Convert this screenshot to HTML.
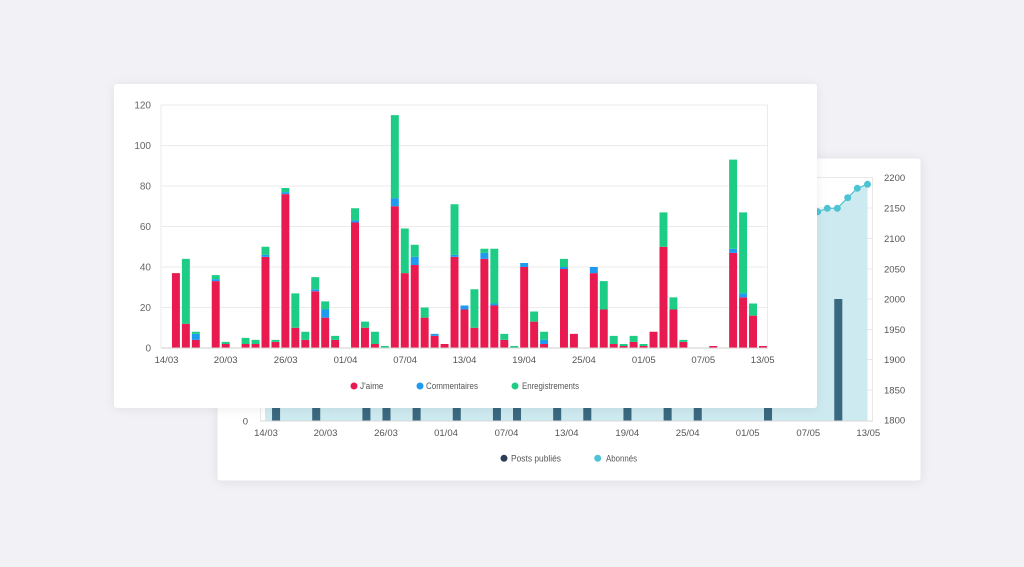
<!DOCTYPE html>
<html><head><meta charset="utf-8"><style>
html,body{margin:0;padding:0;background:#f2f2f6;}
svg{display:block;}
text{font-family:"Liberation Sans",Arial,sans-serif;}
</style></head><body>
<svg width="1024" height="567" viewBox="0 0 1024 567" xmlns="http://www.w3.org/2000/svg">
<defs>
<filter id="sh" x="-10%" y="-10%" width="120%" height="130%">
<feDropShadow dx="0" dy="1" stdDeviation="5" flood-color="#000" flood-opacity="0.07"/>
</filter>
</defs>
<rect width="1024" height="567" fill="#f2f2f6"/>
<rect x="217" y="158" width="704" height="323" rx="3" fill="#fff" stroke="#e8e8ee" filter="url(#sh)"/>
<path d="M261 177.5H873M261 208H873M261 238.5H873M261 269H873M261 299H873M261 329.5H873M261 359.5H873M261 390H873M872.5 177V421M260.5 177V421" stroke="#e8e8e8" fill="none"/>
<polygon points="265,421 265,230 807,214 817.7,211.7 827.3,208.3 837.3,208.3 847.7,197.7 857.3,188.3 867.5,184.3 867.5,421" fill="#cdeaf0"/>
<polyline points="265,230 807,214 817.7,211.7 827.3,208.3 837.3,208.3 847.7,197.7 857.3,188.3 867.5,184.3" fill="none" stroke="#4ec3d3" stroke-width="1.2"/>
<g fill="#4ec3d3">
<circle cx="817.7" cy="211.7" r="3.5"/><circle cx="827.3" cy="208.3" r="3.5"/><circle cx="837.3" cy="208.3" r="3.5"/>
<circle cx="847.7" cy="197.7" r="3.5"/><circle cx="857.3" cy="188.3" r="3.5"/><circle cx="867.5" cy="184.3" r="3.5"/>
</g>
<path transform="translate(261,421) scale(10.04,-1)" fill="#3a687e" d="M1.1 0h.8v30h-.8zM5.1 0h.8v30h-.8zM10.1 0h.8v30h-.8zM12.1 0h.8v30h-.8zM15.1 0h.8v30h-.8zM19.1 0h.8v30h-.8zM23.1 0h.8v30h-.8zM25.1 0h.8v30h-.8zM29.1 0h.8v30h-.8zM32.1 0h.8v30h-.8zM36.1 0h.8v30h-.8zM40.1 0h.8v30h-.8zM43.1 0h.8v30h-.8zM50.1 0h.8v30h-.8zM57.1 0h.8v122h-.8z"/>
<line x1="260" y1="421" x2="873" y2="421" stroke="#d8d8d8"/>
<g font-size="9.5" fill="#555">
<text x="884" y="181">2200</text><text x="884" y="211.5">2150</text><text x="884" y="242">2100</text>
<text x="884" y="272.5">2050</text><text x="884" y="302.5">2000</text><text x="884" y="333">1950</text>
<text x="884" y="363">1900</text><text x="884" y="393.5">1850</text><text x="884" y="423.5">1800</text>
<text x="248" y="424.5" text-anchor="end">0</text>
</g>
<g font-size="9.5" fill="#555" text-anchor="middle">
<text x="266" y="436">14/03</text><text x="325.5" y="436">20/03</text><text x="386" y="436">26/03</text>
<text x="446" y="436">01/04</text><text x="506.5" y="436">07/04</text><text x="566.7" y="436">13/04</text>
<text x="627.3" y="436">19/04</text><text x="687.7" y="436">25/04</text><text x="747.7" y="436">01/05</text>
<text x="808.3" y="436">07/05</text><text x="868.3" y="436">13/05</text>
</g>
<circle cx="504" cy="458.3" r="3.5" fill="#2d3e58"/>
<text x="511" y="461.3" font-size="9" fill="#555" textLength="50" lengthAdjust="spacingAndGlyphs">Posts publiés</text>
<circle cx="597.7" cy="458.3" r="3.5" fill="#4ec3d3"/>
<text x="606" y="461.3" font-size="9" fill="#555" textLength="31" lengthAdjust="spacingAndGlyphs">Abonnés</text>

<rect x="114" y="84" width="703" height="324" rx="3" fill="#fff" filter="url(#sh)"/>
<path d="M161 105H768M161 145.5H768M161 186H768M161 226.5H768M161 267H768M161 307.5H768M161 105V348M767.5 105V348" stroke="#ebebeb" fill="none"/>
<g transform="translate(161,348) scale(9.95,-2.025)">
<path fill="#e91a4f" d="M1.1 0h.8v37h-.8zM2.1 0h.8v12h-.8zM3.1 0h.8v4h-.8zM5.1 0h.8v33h-.8zM6.1 0h.8v2h-.8zM8.1 0h.8v2h-.8zM9.1 0h.8v2h-.8zM10.1 0h.8v45h-.8zM11.1 0h.8v3h-.8zM12.1 0h.8v76h-.8zM13.1 0h.8v10h-.8zM14.1 0h.8v4h-.8zM15.1 0h.8v28h-.8zM16.1 0h.8v15h-.8zM17.1 0h.8v4h-.8zM19.1 0h.8v62h-.8zM20.1 0h.8v10h-.8zM21.1 0h.8v2h-.8zM23.1 0h.8v70h-.8zM24.1 0h.8v37h-.8zM25.1 0h.8v41h-.8zM26.1 0h.8v15h-.8zM27.1 0h.8v6h-.8zM28.1 0h.8v2h-.8zM29.1 0h.8v45h-.8zM30.1 0h.8v19h-.8zM31.1 0h.8v10h-.8zM32.1 0h.8v44h-.8zM33.1 0h.8v21h-.8zM34.1 0h.8v4h-.8zM36.1 0h.8v40h-.8zM37.1 0h.8v13h-.8zM38.1 0h.8v2h-.8zM40.1 0h.8v39h-.8zM41.1 0h.8v7h-.8zM43.1 0h.8v37h-.8zM44.1 0h.8v19h-.8zM45.1 0h.8v2h-.8zM46.1 0h.8v1h-.8zM47.1 0h.8v3h-.8zM48.1 0h.8v1h-.8zM49.1 0h.8v8h-.8zM50.1 0h.8v50h-.8zM51.1 0h.8v19h-.8zM52.1 0h.8v3h-.8zM55.1 0h.8v1h-.8zM57.1 0h.8v47h-.8zM58.1 0h.8v25h-.8zM59.1 0h.8v16h-.8zM60.1 0h.8v1h-.8z"/>
<path fill="#1e9bf0" d="M3.1 4h.8v3h-.8zM5.1 33h.8v1h-.8zM10.1 45h.8v1h-.8zM12.1 76h.8v1h-.8zM15.1 28h.8v1h-.8zM16.1 15h.8v4h-.8zM19.1 62h.8v1h-.8zM23.1 70h.8v4h-.8zM25.1 41h.8v4h-.8zM27.1 6h.8v1h-.8zM29.1 45h.8v1h-.8zM30.1 19h.8v2h-.8zM32.1 44h.8v3h-.8zM33.1 21h.8v1h-.8zM36.1 40h.8v2h-.8zM38.1 2h.8v2h-.8zM40.1 39h.8v1h-.8zM43.1 37h.8v3h-.8zM57.1 47h.8v2h-.8zM58.1 25h.8v2h-.8z"/>
<path fill="#1dcd85" d="M2.1 12h.8v32h-.8zM3.1 7h.8v1h-.8zM5.1 34h.8v2h-.8zM6.1 2h.8v1h-.8zM8.1 2h.8v3h-.8zM9.1 2h.8v2h-.8zM10.1 46h.8v4h-.8zM11.1 3h.8v1h-.8zM12.1 77h.8v2h-.8zM13.1 10h.8v17h-.8zM14.1 4h.8v4h-.8zM15.1 29h.8v6h-.8zM16.1 19h.8v4h-.8zM17.1 4h.8v2h-.8zM19.1 63h.8v6h-.8zM20.1 10h.8v3h-.8zM21.1 2h.8v6h-.8zM22.1 0h.8v1h-.8zM23.1 74h.8v41h-.8zM24.1 37h.8v22h-.8zM25.1 45h.8v6h-.8zM26.1 15h.8v5h-.8zM29.1 46h.8v25h-.8zM31.1 10h.8v19h-.8zM32.1 47h.8v2h-.8zM33.1 22h.8v27h-.8zM34.1 4h.8v3h-.8zM35.1 0h.8v1h-.8zM37.1 13h.8v5h-.8zM38.1 4h.8v4h-.8zM40.1 40h.8v4h-.8zM44.1 19h.8v14h-.8zM45.1 2h.8v4h-.8zM46.1 1h.8v1h-.8zM47.1 3h.8v3h-.8zM48.1 1h.8v1h-.8zM50.1 50h.8v17h-.8zM51.1 19h.8v6h-.8zM52.1 3h.8v1h-.8zM57.1 49h.8v44h-.8zM58.1 27h.8v40h-.8zM59.1 16h.8v6h-.8z"/>
</g>
<line x1="161" y1="348" x2="768" y2="348" stroke="#cfcfcf"/>
<g font-size="10" fill="#666" text-anchor="end">
<text x="151" y="108.5">120</text><text x="151" y="149">100</text><text x="151" y="189.5">80</text>
<text x="151" y="230">60</text><text x="151" y="270.5">40</text><text x="151" y="311">20</text>
<text x="151" y="351.5">0</text>
</g>
<g font-size="9.5" fill="#555" text-anchor="middle">
<text x="166.5" y="362.8">14/03</text><text x="225.7" y="362.8">20/03</text><text x="285.7" y="362.8">26/03</text>
<text x="345.5" y="362.8">01/04</text><text x="405.2" y="362.8">07/04</text><text x="464.5" y="362.8">13/04</text>
<text x="524.2" y="362.8">19/04</text><text x="583.9" y="362.8">25/04</text><text x="643.8" y="362.8">01/05</text>
<text x="703.3" y="362.8">07/05</text><text x="762.7" y="362.8">13/05</text>
</g>
<circle cx="354" cy="386" r="3.5" fill="#e91a4f"/>
<text x="360" y="389" font-size="9" fill="#555" textLength="23.5" lengthAdjust="spacingAndGlyphs">J'aime</text>
<circle cx="420" cy="386" r="3.5" fill="#1e9bf0"/>
<text x="426" y="389" font-size="9" fill="#555" textLength="52" lengthAdjust="spacingAndGlyphs">Commentaires</text>
<circle cx="515" cy="386" r="3.5" fill="#1dcd85"/>
<text x="522" y="389" font-size="9" fill="#555" textLength="57" lengthAdjust="spacingAndGlyphs">Enregistrements</text>
</svg>
</body></html>
